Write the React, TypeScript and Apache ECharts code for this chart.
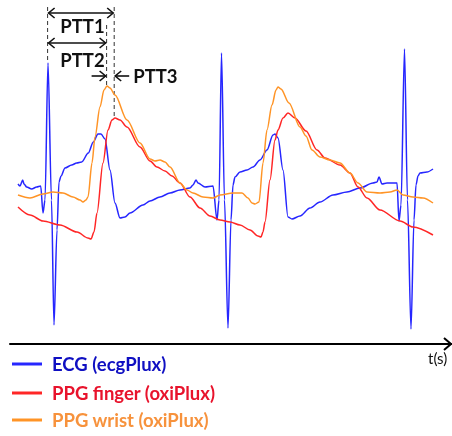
import React, { useEffect, useRef } from "react";
import * as echarts from "echarts";

// time in ms, amplitude in arbitrary units
const ecgData: [number, number][] = [
  [40, 160], [50, 158], [63.5, 164], [70, 160], [83.5, 157], [108.5, 155], [133.5, 157], [153.5, 158],
  [165, 131], [175, 144], [190, 281], [207.5, 144], [220, 19], [235, 114], [245, 162], [255, 168],
  [275, 176], [308.5, 179], [333.5, 181], [358.5, 182], [391.5, 191], [416.5, 202], [440, 210],
  [455, 210], [475, 205], [500, 174], [525, 141], [550, 126], [575, 127], [600, 131], [665, 139],
  [700, 143], [750, 147], [800, 151], [850, 154], [900, 156], [915, 159], [930, 164], [940, 161],
  [975, 157], [1015, 158], [1035, 124], [1045, 144], [1057.5, 291], [1072.5, 144], [1090, 16],
  [1105, 124], [1115, 159], [1125, 167], [1150, 172], [1185, 174], [1215, 177], [1250, 184],
  [1285, 194], [1315, 209], [1325, 210], [1340, 206], [1365, 174], [1390, 127], [1410, 125],
  [1450, 128], [1500, 136], [1550, 142], [1615, 149], [1685, 152], [1750, 156], [1815, 161],
  [1835, 162], [1845, 167], [1860, 160], [1885, 161], [1935, 161], [1945, 123], [1955, 139],
  [1972.5, 295], [1987.5, 144], [2005, 15], [2020, 124], [2030, 159], [2040, 168], [2050, 171],
  [2085, 172], [2115, 175],
];

const fingerData: [number, number][] = [
  [40, 137], [100, 129], [165, 123], [250, 119], [335, 112], [390, 106], [405, 105], [420, 112],
  [435, 131], [465, 181], [490, 214], [510, 224], [525, 226], [550, 224], [585, 217], [650, 197],
  [700, 183], [735, 177], [775, 173], [810, 168], [850, 161], [900, 147], [950, 136], [1000, 128],
  [1050, 124], [1100, 122], [1150, 119], [1200, 114], [1240, 108], [1255, 107], [1265, 112],
  [1275, 122], [1300, 164], [1325, 204], [1340, 214], [1365, 226], [1390, 231], [1425, 226],
  [1480, 213], [1535, 194], [1575, 186], [1650, 179], [1700, 171], [1740, 157], [1785, 146],
  [1850, 134], [1950, 123], [2015, 117], [2115, 109],
];

const wristData: [number, number][] = [
  [40, 149], [100, 146], [165, 150], [215, 152], [265, 151], [315, 147], [350, 144], [365, 142],
  [380, 144], [390, 147], [410, 181], [425, 207], [450, 237], [470, 254], [485, 258], [500, 256],
  [525, 249], [585, 224], [650, 201], [700, 185], [725, 183], [750, 184], [775, 182], [800, 177],
  [850, 161], [885, 154], [915, 151], [965, 147], [1015, 146], [1050, 149], [1115, 151],
  [1160, 151], [1190, 146], [1210, 141], [1225, 140], [1245, 142], [1265, 181], [1285, 214],
  [1310, 239], [1330, 254], [1340, 257], [1355, 255], [1395, 241], [1450, 217], [1480, 208],
  [1510, 194], [1550, 187], [1600, 184], [1650, 181], [1700, 171], [1740, 161], [1785, 152],
  [1850, 151], [1900, 152], [1935, 154], [1965, 149], [2015, 147], [2065, 146], [2115, 141],
];

const seriesNames = ["ECG (ecgPlux)", "PPG finger (oxiPlux)", "PPG wrist (oxiPlux)"];
const lineColors = ["#2626ff", "#ff2626", "#ff9426"];
const legendTextColors = ["#0f0fc2", "#e8132c", "#f7923c"];
const pttLabels = ["PTT1", "PTT2", "PTT3"];
const axisName = "t(s)";

// annotation markers (time in ms)
const rPeakTime = 188;
const wristPeakTime = 483;
const fingerPeakTime = 521;

const FONT = "Lato, 'Open Sans', sans-serif";
const legendTops = [353, 382, 409];

export default function App() {
  const ref = useRef<HTMLDivElement>(null);
  useEffect(() => {
    const chart = echarts.init(ref.current!, null, { renderer: "svg" });
    const datasets = [ecgData, fingerData, wristData];
    chart.setOption({
      animation: false,
      grid: { left: 10, right: 0, top: 0, bottom: 92 },
      xAxis: {
        type: "value",
        min: 0,
        max: 2210,
        axisLine: { show: true, lineStyle: { color: "#000", width: 2 } },
        axisTick: { show: false },
        axisLabel: { show: false },
        splitLine: { show: false },
      },
      yAxis: { type: "value", min: 0, max: 344, show: false },
      legend: seriesNames.map((n, i) => ({
        orient: "vertical",
        left: 12,
        top: legendTops[i],
        padding: 0,
        itemWidth: 30,
        itemHeight: 3,
        icon: "rect",
        data: [{ name: n, textStyle: { color: legendTextColors[i] } }],
        textStyle: {
          fontFamily: FONT,
          fontWeight: "bold",
          fontSize: 18.5,
          lineHeight: 22,
          padding: [0, 0, 0, 5],
        },
      })),
      series: [2, 1, 0].map((i) => ({
        name: seriesNames[i],
        type: "line",
        data: datasets[i],
        showSymbol: false,
        smooth: 0.3,
        smoothMonotone: "x",
        color: lineColors[i],
        lineStyle: { color: lineColors[i], width: 1.5 },
        z: 2 + i,
      })),
    });

    const P = (t: number, a: number) => chart.convertToPixel({ gridIndex: 0 }, [t, a]) as number[];
    const black = "#111";
    const dashed = (t: number, a1: number, a2: number) => {
      const p1 = P(t, a1);
      const p2 = P(t, a2);
      return {
        type: "line",
        shape: { x1: p1[0], y1: p1[1], x2: p2[0], y2: p2[1] },
        style: { stroke: "#333", lineWidth: 1, lineDash: [4, 3] },
      };
    };
    const seg = (x1: number, y1: number, x2: number, y2: number) => ({
      type: "line",
      shape: { x1, y1, x2, y2 },
      style: { stroke: black, lineWidth: 1.6 },
    });
    const head = (x: number, y: number, dir: number) => ({
      type: "polyline",
      shape: { points: [[x - dir * 6, y - 5], [x, y], [x - dir * 6, y + 5]] },
      style: { stroke: black, lineWidth: 1.6, fill: null },
    });
    const label = (text: string, x: number, y: number, align: string) => ({
      type: "text",
      style: {
        text,
        x,
        y,
        fill: black,
        fontFamily: FONT,
        fontWeight: "bold",
        fontSize: 18.5,
        align,
        verticalAlign: "middle",
      },
    });

    const a1 = P(rPeakTime, 331);
    const b1 = P(fingerPeakTime, 331);
    const a2 = P(rPeakTime, 301);
    const b2 = P(wristPeakTime, 301);
    const w3 = P(wristPeakTime, 268);
    const f3 = P(fingerPeakTime, 268);
    const l1 = P((rPeakTime + fingerPeakTime) / 2 + 8, 318);
    const l2 = P((rPeakTime + fingerPeakTime) / 2 + 8, 284);
    const axEnd = P(2210, 0);

    chart.setOption({
      graphic: [
        dashed(rPeakTime, 337, 281),
        dashed(wristPeakTime, 319, 258),
        dashed(fingerPeakTime, 337, 226),
        seg(a1[0] + 1, a1[1], b1[0] - 1, b1[1]),
        head(a1[0] + 1, a1[1], -1),
        head(b1[0] - 1, b1[1], 1),
        label(pttLabels[0], l1[0], l1[1], "center"),
        seg(a2[0] + 1, a2[1], b2[0] - 1, b2[1]),
        head(a2[0] + 1, a2[1], -1),
        head(b2[0] - 1, b2[1], 1),
        label(pttLabels[1], l2[0], l2[1], "center"),
        seg(w3[0] - 15, w3[1], w3[0] - 1, w3[1]),
        head(w3[0] - 1, w3[1], 1),
        seg(f3[0] + 1, f3[1], f3[0] + 15, f3[1]),
        head(f3[0] + 1, f3[1], -1),
        label(pttLabels[2], f3[0] + 19, f3[1], "left"),
        {
          type: "polyline",
          shape: { points: [[axEnd[0] - 8, axEnd[1] - 6], [axEnd[0] - 1, axEnd[1]], [axEnd[0] - 8, axEnd[1] + 6]] },
          style: { stroke: "#000", lineWidth: 2, fill: null },
        },
        {
          type: "text",
          style: {
            text: axisName,
            x: axEnd[0] - 24,
            y: axEnd[1] + 14,
            fill: "#111",
            fontFamily: FONT,
            fontSize: 15,
            verticalAlign: "middle",
          },
        },
      ],
    });
    return () => chart.dispose();
  }, []);
  return <div ref={ref} style={{ position: "fixed", left: 0, top: 0, width: 452, height: 436 }} />;
}
